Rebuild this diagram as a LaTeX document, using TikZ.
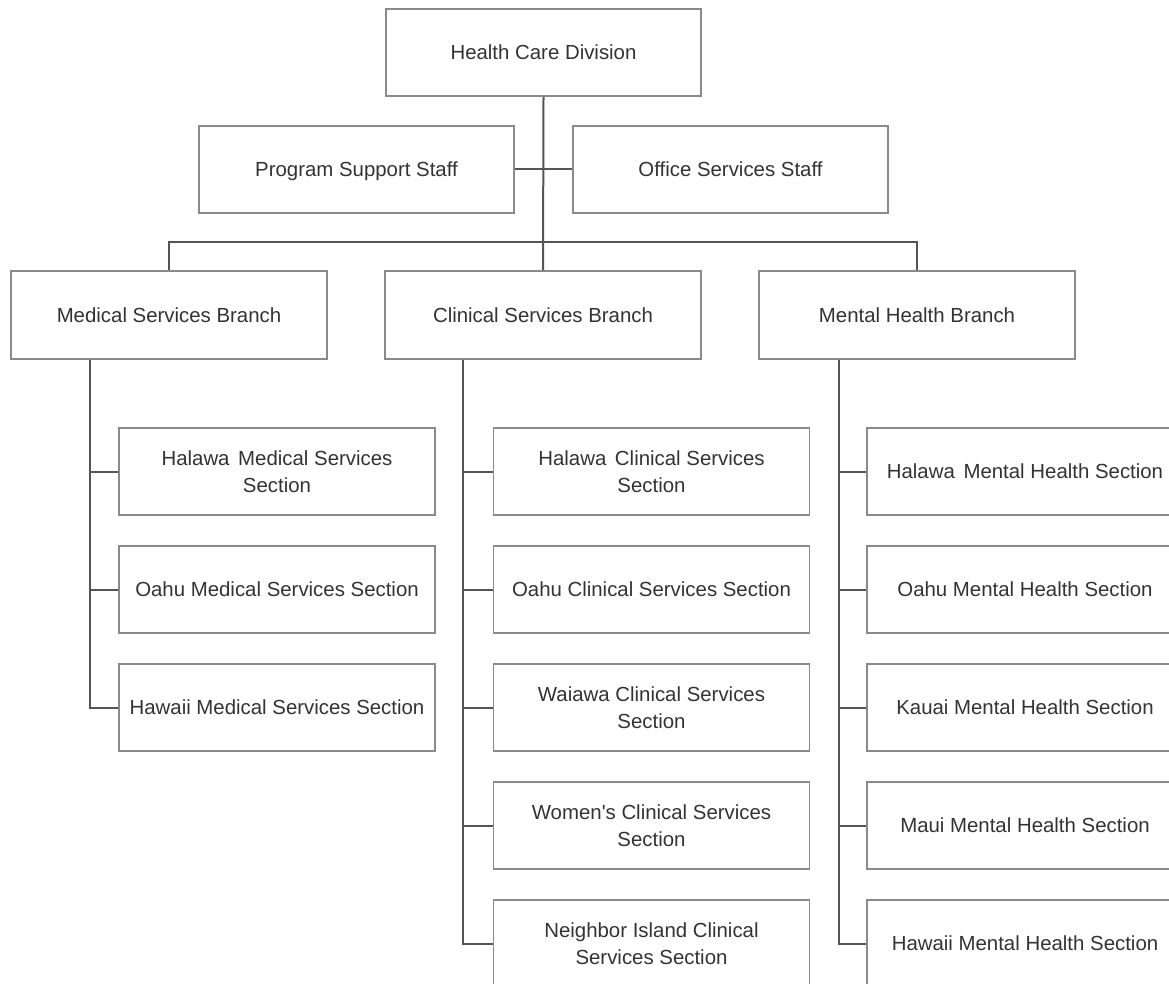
\documentclass[tikz,border=0pt]{standalone}
\usepackage{fontspec}
\newfontfamily\lsans{Liberation Sans}
\begin{document}
\begin{tikzpicture}[x=1pt,y=-1pt,
  box/.style={draw=boxgray, line width=1.8pt, fill=white, inner sep=0pt,
    minimum width=316pt, minimum height=87pt, align=center, text=txtgray,
    font=\lsans\fontsize{20.4}{26.5}\selectfont},
  one/.style={box, text height=18.6pt, text depth=4pt},
  link/.style={draw=linegray, line width=2pt}]
\definecolor{boxgray}{HTML}{8A8A8A}
\definecolor{linegray}{HTML}{555555}
\definecolor{txtgray}{HTML}{333333}
\useasboundingbox (0,0) rectangle (1169,984);
\clip (0,0) rectangle (1169,984);

% top level
\node[one, minimum width=315pt] (top) at (543.5,52.5) {Health Care Division};
\node[one, minimum width=315pt] (pss) at (356.5,169.5) {Program Support Staff};
\node[one, minimum width=315pt] (oss) at (730.5,169.5) {Office Services Staff};

% branches
\node[one, minimum height=88pt] (med) at (169,315) {Medical Services Branch};
\node[one, minimum height=88pt] (clin) at (543,315) {Clinical Services Branch};
\node[one, minimum height=88pt] (ment) at (917,315) {Mental Health Branch};

% medical sections
\node[box] (m1) at (277,471.5) {Halawa \hspace{3pt}Medical Services\\Section};
\node[one] (m2) at (277,589.5) {Oahu Medical Services Section};
\node[one] (m3) at (277,707.5) {Hawaii Medical Services Section};

% clinical sections
\node[box] (c1) at (651.5,471.5) {Halawa \hspace{3pt}Clinical Services\\Section};
\node[one] (c2) at (651.5,589.5) {Oahu Clinical Services Section};
\node[box] (c3) at (651.5,707.5) {Waiawa Clinical Services\\Section};
\node[box] (c4) at (651.5,825.5) {Women's Clinical Services\\Section};
\node[box] (c5) at (651.5,943.5) {Neighbor Island Clinical\\Services Section};

% mental health sections
\node[one] (h1) at (1025,471.5) {Halawa \hspace{3pt}Mental Health Section};
\node[one] (h2) at (1025,589.5) {Oahu Mental Health Section};
\node[one] (h3) at (1025,707.5) {Kauai Mental Health Section};
\node[one] (h4) at (1025,825.5) {Maui Mental Health Section};
\node[one] (h5) at (1025,943.5) {Hawaii Mental Health Section};

% spine coordinates
\coordinate (hy) at (543,242);
\coordinate (mx) at (90,0);
\coordinate (cx) at (463,0);
\coordinate (hx) at (839,0);

% connectors
\draw[link] (top.south) -- (clin.north);
\draw[link] (pss.east) -- (oss.west);
\draw[link] (med.north) |- (hy) -| (ment.north);

\draw[link] (med.south -| mx) |- (m3.west);
\draw[link] (m1.west) -- (m1.west -| mx);
\draw[link] (m2.west) -- (m2.west -| mx);

\draw[link] (clin.south -| cx) |- (c5.west);
\foreach \n in {c1,c2,c3,c4} \draw[link] (\n.west) -- (\n.west -| cx);

\draw[link] (ment.south -| hx) |- (h5.west);
\foreach \n in {h1,h2,h3,h4} \draw[link] (\n.west) -- (\n.west -| hx);
\end{tikzpicture}
\end{document}
